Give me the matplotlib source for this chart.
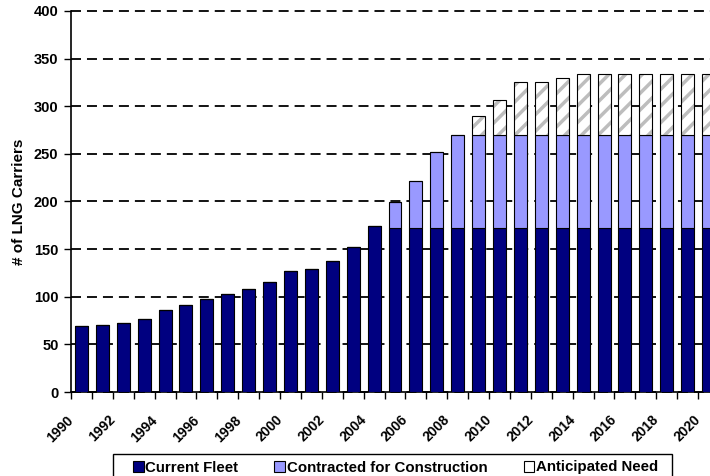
import matplotlib
matplotlib.use('Agg')
import matplotlib.pyplot as plt
import matplotlib.transforms as mtransforms
from matplotlib.patches import Patch, Rectangle
import numpy as np

# LNG carrier fleet, 1990-2020
years = list(range(1990, 2021))
current_fleet = [69, 70, 72, 77, 86, 91, 98, 103, 108, 116,
                 127, 129, 138, 152, 174] + [172] * 16
contracted = [0] * 15 + [28, 50, 80, 98] + [98] * 12
anticipated = [0] * 19 + [20, 37, 55, 55, 60] + [64] * 7
y_ticks = [0, 50, 100, 150, 200, 250, 300, 350, 400]
legend_labels = ['Current Fleet', 'Contracted for Construction',
                 'Anticipated Need']

NAVY = '#000080'
LIGHT = '#9999ff'
HATCH_GRAY = '#bdbdbd'

plt.rcParams['font.family'] = ['Liberation Sans', 'DejaVu Sans']
plt.rcParams['font.weight'] = 'bold'
plt.rcParams['hatch.linewidth'] = 2.5
plt.rcParams['lines.scale_dashes'] = False

W, H = 710, 476
fig = plt.figure(figsize=(W / 100, H / 100), dpi=100)
# axes runs past the right edge on purpose (the reference is cropped there)
ax = fig.add_axes([71 / W, 84 / H, 648 / W, 381 / H])

x = np.arange(len(years))
width = 0.62
cur = np.array(current_fleet)
con = np.array(contracted)
ant = np.array(anticipated)

ax.bar(x, cur, width, color=NAVY, edgecolor='black', linewidth=0.8, zorder=3)
ax.bar(x, con, width, bottom=cur, color=LIGHT, edgecolor='black',
       linewidth=0.8, zorder=3)
# hatched part: gray stripes first, black outline on top
ax.bar(x, ant, width, bottom=cur + con, color='white', edgecolor=HATCH_GRAY,
       hatch='//', linewidth=0, zorder=3)
ax.bar(x, ant, width, bottom=cur + con, fill=False, edgecolor='black',
       linewidth=0.8, zorder=4)

ax.set_xlim(-0.5, len(years) - 0.5)
ax.set_ylim(0, 400)
ax.set_yticks(y_ticks)
ax.tick_params(axis='y', direction='out', length=5, width=1, pad=4,
               labelsize=10.5)
ax.set_ylabel('# of LNG Carriers', fontsize=11, fontweight='bold')
ax.yaxis.set_label_coords(-0.07, 0.5)

# category boundaries get the ticks, every other year gets a label
ax.set_xticks(np.arange(len(years) + 1) - 0.5, minor=True)
ax.set_xticks(x[::2])
ax.set_xticklabels([str(y) for y in years[::2]], rotation=45, ha='right',
                   va='top', fontsize=10)
ax.tick_params(axis='x', which='major', length=0, pad=15)
ax.tick_params(axis='x', which='minor', direction='out', length=5, width=1)
offset = mtransforms.ScaledTranslation(-5 / 100, 0, fig.dpi_scale_trans)
for lbl in ax.get_xticklabels():
    lbl.set_transform(lbl.get_transform() + offset)

ax.yaxis.grid(True, color='black', linewidth=1.3, linestyle=(0, (7.2, 4.3)),
              zorder=0)
for gl in ax.get_ygridlines():
    gl.set_clip_on(False)
ax.set_axisbelow(True)

for side in ['top', 'right']:
    ax.spines[side].set_visible(False)
ax.spines['left'].set_linewidth(1.2)
ax.spines['bottom'].set_linewidth(1.2)

# legend: frame drawn by hand, it runs off the bottom of the picture
frame = Rectangle((113 / W, -20 / H), 559 / W, 42 / H,
                  transform=fig.transFigure, facecolor='white',
                  edgecolor='black', linewidth=1.0, clip_on=False)
fig.add_artist(frame)

handles = [
    Patch(facecolor=NAVY, edgecolor='black', linewidth=0.8),
    Patch(facecolor=LIGHT, edgecolor='black', linewidth=0.8),
    Patch(facecolor='white', edgecolor='black', linewidth=0.8),
]
leg = fig.legend(handles, legend_labels, loc='center left', ncol=3,
                 bbox_to_anchor=(133 / W, 1 - 467.5 / H),
                 frameon=False, fontsize=10.8, handlelength=0.73,
                 handleheight=0.73, handletextpad=0.1, columnspacing=2.4,
                 borderpad=0, borderaxespad=0)

fig.savefig('out.png', dpi=100)
